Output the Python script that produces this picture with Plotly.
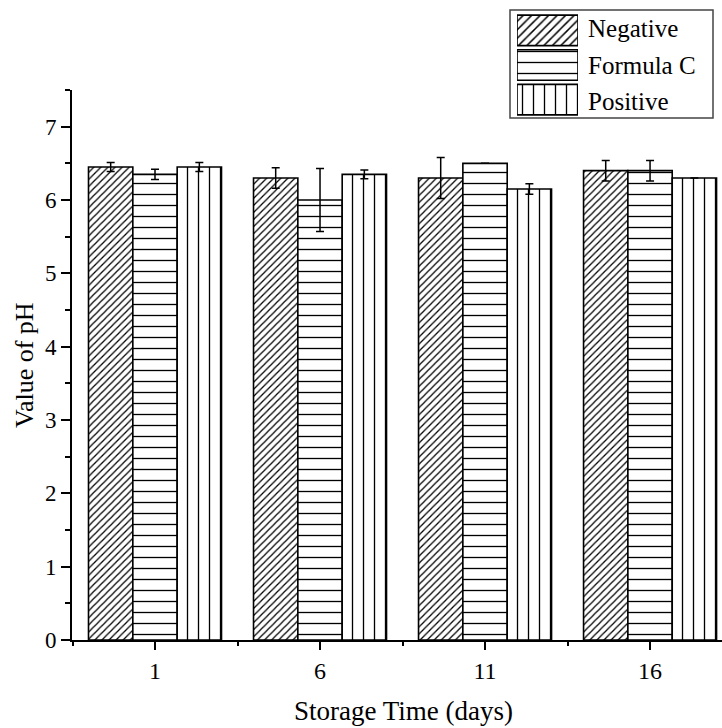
import plotly.graph_objects as go

days = [1, 6, 11, 16]
series = ["Negative", "Formula C", "Positive"]
negative = [6.45, 6.30, 6.30, 6.40]
formula_c = [6.35, 6.00, 6.50, 6.40]
positive = [6.45, 6.35, 6.15, 6.30]
negative_err = [0.06, 0.14, 0.28, 0.14]
formula_c_err = [0.07, 0.43, 0.0, 0.14]
positive_err = [0.06, 0.06, 0.07, 0.0]

values = [negative, formula_c, positive]
errors = [negative_err, formula_c_err, positive_err]
shapes = ["/", "-", "|"]
sizes = [5, 11, 11]
solid = [0.25, 0.12, 0.12]

FONT = "Liberation Serif"
W, H = 722, 728
L, B = 72, 88
PW = W - L
PH = H - B            # paper height (top margin 0)
PLOT_TOP = 90         # px from top where the main plot starts


def px(xp):
    return (xp - L) / PW


def py(yp):
    return (PH - yp) / PH


fig = go.Figure()
for name, v, e, sh, sz, so in zip(series, values, errors, shapes, sizes, solid):
    fig.add_trace(go.Bar(
        x=days, y=v, name=name, showlegend=False,
        marker=dict(color="white",
                    line=dict(color="black", width=1.6),
                    pattern=dict(shape=sh, size=sz, solidity=so,
                                 fgcolor="black", bgcolor="white", fillmode="replace")),
        error_y=dict(type="data", array=e, visible=True, color="black",
                     thickness=1.5, width=4),
    ))

# custom legend swatches (larger than plotly's built-in legend symbols)
fig.add_trace(go.Bar(
    x=[1] * len(series), y=list(range(len(series))), orientation="h",
    xaxis="x2", yaxis="y2", showlegend=False, hoverinfo="skip", width=0.88,
    marker=dict(color="white", line=dict(color="black", width=1.6),
                pattern=dict(shape=shapes, size=[6, 11, 11], solidity=solid,
                             fgcolor="black", bgcolor="white", fillmode="replace")),
))

annotations = []
row_centers = [28.5, 65, 101]
for name, rc in zip(series, row_centers):
    annotations.append(dict(xref="paper", yref="paper", x=px(586), y=py(rc),
                            xanchor="left", yanchor="middle", showarrow=False,
                            text=name, font=dict(family=FONT, size=25, color="black")))
annotations.append(dict(xref="paper", yref="paper", x=px(403), y=py(711),
                        xanchor="center", yanchor="middle", showarrow=False,
                        text="Storage Time (days)",
                        font=dict(family=FONT, size=27, color="black")))
annotations.append(dict(xref="paper", yref="paper", x=px(24), y=py(365),
                        xanchor="center", yanchor="middle", showarrow=False,
                        textangle=-90, text="Value of pH",
                        font=dict(family=FONT, size=26, color="black")))

fig.update_layout(
    width=W, height=H,
    margin=dict(l=L, r=0, t=0, b=B, autoexpand=False),
    paper_bgcolor="white", plot_bgcolor="white",
    barmode="group", bargap=0.194, bargroupgap=0,
    font=dict(family=FONT, color="black", size=23),
    showlegend=False,
    annotations=annotations,
    shapes=[dict(type="rect", xref="paper", yref="paper",
                 x0=px(510), x1=px(713), y0=py(118), y1=py(10),
                 line=dict(color="#444", width=1.5))],
    xaxis=dict(domain=[0, 1], range=[-1.515, 18.18], tickvals=days,
               ticktext=[str(d) for d in days],
               showline=True, linecolor="black", linewidth=2,
               ticks="outside", ticklen=8, tickwidth=2, tickcolor="black",
               minor=dict(tick0=1, dtick=2.5, ticks="outside", ticklen=4,
                          tickwidth=1.5, tickcolor="black"),
               showgrid=False, zeroline=False,
               tickfont=dict(size=24, family=FONT)),
    yaxis=dict(domain=[0, py(PLOT_TOP)], range=[0, 7.5], dtick=1, tick0=0,
               showline=True, linecolor="black", linewidth=2,
               ticks="outside", ticklen=9, tickwidth=2, tickcolor="black",
               minor=dict(dtick=0.5, ticks="outside", ticklen=5,
                          tickwidth=1.5, tickcolor="black"),
               showgrid=False, zeroline=False,
               tickfont=dict(size=23, family=FONT)),
    xaxis2=dict(domain=[px(517), px(578)], range=[0, 1], anchor="y2",
                visible=False, fixedrange=True),
    yaxis2=dict(domain=[py(117), py(13)], range=[2.5, -0.5], anchor="x2",
                visible=False, fixedrange=True),
)

fig.write_html("out.html")
